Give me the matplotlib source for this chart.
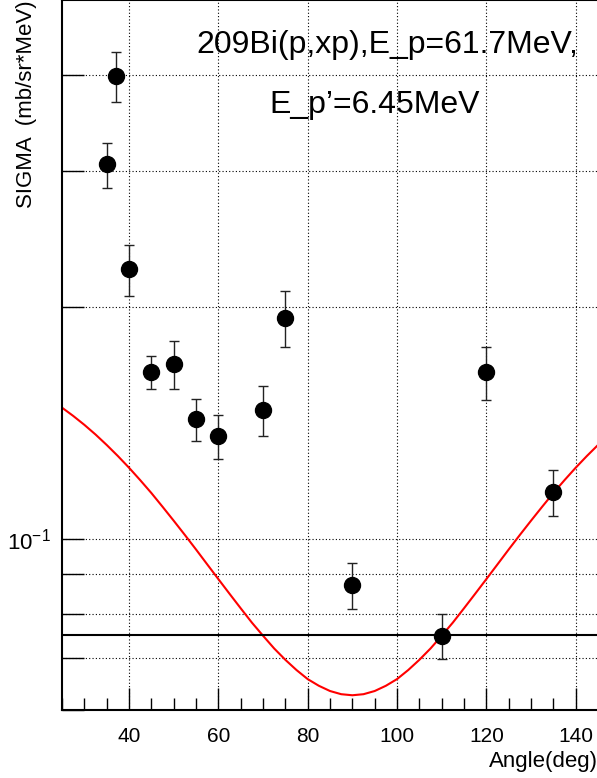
import numpy as np
import matplotlib
matplotlib.use('Agg')
import matplotlib.pyplot as plt
from matplotlib.ticker import FixedLocator, NullFormatter, MultipleLocator

plt.rcParams['font.family'] = ['Liberation Sans', 'DejaVu Sans']
plt.rcParams['mathtext.fontset'] = 'custom'
plt.rcParams['mathtext.rm'] = 'Liberation Sans'
plt.rcParams['mathtext.default'] = 'regular'
plt.rcParams['axes.unicode_minus'] = False

# measured points
angle = [35, 37, 40, 45, 50, 55, 60, 70, 75, 90, 110, 120, 135]
sigma = [0.306, 0.3985, 0.2237, 0.1646, 0.1687, 0.1429, 0.1358,
         0.1469, 0.1936, 0.0871, 0.0749, 0.1646, 0.1150]
sigma_err = [0.0207, 0.030, 0.017, 0.008, 0.012, 0.009, 0.0088,
             0.011, 0.016, 0.006, 0.005, 0.013, 0.0079]

# red curve (every 2.5 deg)
curve_angle = [25, 27.5, 30, 32.5, 35, 37.5, 40, 42.5, 45, 47.5, 50, 52.5,
               55, 57.5, 60, 62.5, 65, 67.5, 70, 72.5, 75, 77.5, 80, 82.5,
               85, 87.5, 90, 92.5, 95, 97.5, 100, 102.5, 105, 107.5, 110,
               112.5, 115, 117.5, 120, 122.5, 125, 127.5, 130, 132.5, 135,
               137.5, 140, 142.5, 145]
curve_sigma = [0.1480, 0.1444, 0.1406, 0.1366, 0.1324, 0.1281, 0.1237,
               0.1192, 0.1147, 0.1101, 0.1056, 0.1012, 0.0969, 0.0927,
               0.0887, 0.0849, 0.0813, 0.0779, 0.0749, 0.0721, 0.0697,
               0.0676, 0.0658, 0.0645, 0.0635, 0.0629, 0.0627, 0.0629,
               0.0635, 0.0645, 0.0658, 0.0676, 0.0697, 0.0721, 0.0749,
               0.0779, 0.0813, 0.0849, 0.0887, 0.0927, 0.0969, 0.1012,
               0.1056, 0.1101, 0.1147, 0.1192, 0.1237, 0.1281, 0.1324]

hline_level = 0.075

fig = plt.figure(figsize=(5.97, 7.78), dpi=100)
ax = fig.add_axes([0.1039, 0.0874, 0.8978, 0.9126])

ax.set_yscale('log')
ax.set_xlim(25, 145)
ax.set_ylim(0.06, 0.5)

ax.plot(curve_angle, curve_sigma, color='red', lw=1.5)
ax.axhline(hline_level, color='black', lw=1.5)
ax.errorbar(angle, sigma, yerr=sigma_err, fmt='o', color='black',
            ms=11.5, elinewidth=1.0, capsize=3.5, capthick=1.0, ecolor='#222222')

# axes / ticks in ROOT style
ax.xaxis.set_major_locator(MultipleLocator(20))
ax.xaxis.set_minor_locator(MultipleLocator(5))
yt = [0.06, 0.07, 0.08, 0.09, 0.1, 0.2, 0.3, 0.4]
ax.yaxis.set_major_locator(FixedLocator([0.1]))
ax.yaxis.set_minor_locator(FixedLocator([v for v in yt if v != 0.1]))
ax.yaxis.set_minor_formatter(NullFormatter())
ax.set_yticklabels(['10$^{-1}$'])

ax.tick_params(axis='both', which='both', direction='in', labelsize=15)
ax.tick_params(axis='x', which='major', length=16, width=1, pad=12)
ax.tick_params(axis='x', which='minor', length=9, width=1)
ax.tick_params(axis='y', which='major', length=16, width=1, pad=8, labelsize=16)
ax.tick_params(axis='y', which='minor', length=16, width=1)

ax.grid(True, which='major', axis='x', color='black', linestyle=(0, (1, 2)), lw=0.8)
ax.grid(True, which='both', axis='y', color='black', linestyle=(0, (1, 2)), lw=0.8)

for s in ax.spines.values():
    s.set_linewidth(1.5)

ax.set_xlabel('Angle(deg)', fontsize=16, loc='right', labelpad=4)
fig.text(0.044, 1.0, 'SIGMA  (mb/sr*MeV)', rotation=90, ha='center', va='top', fontsize=16)

ax.text(0.607, 0.936, '209Bi(p,xp),E_p=61.7MeV,', transform=ax.transAxes,
        ha='center', va='center', fontsize=23)
ax.text(0.583, 0.852, 'E_p\u2019=6.45MeV', transform=ax.transAxes,
        ha='center', va='center', fontsize=23)

fig.savefig('out.png', dpi=100)
